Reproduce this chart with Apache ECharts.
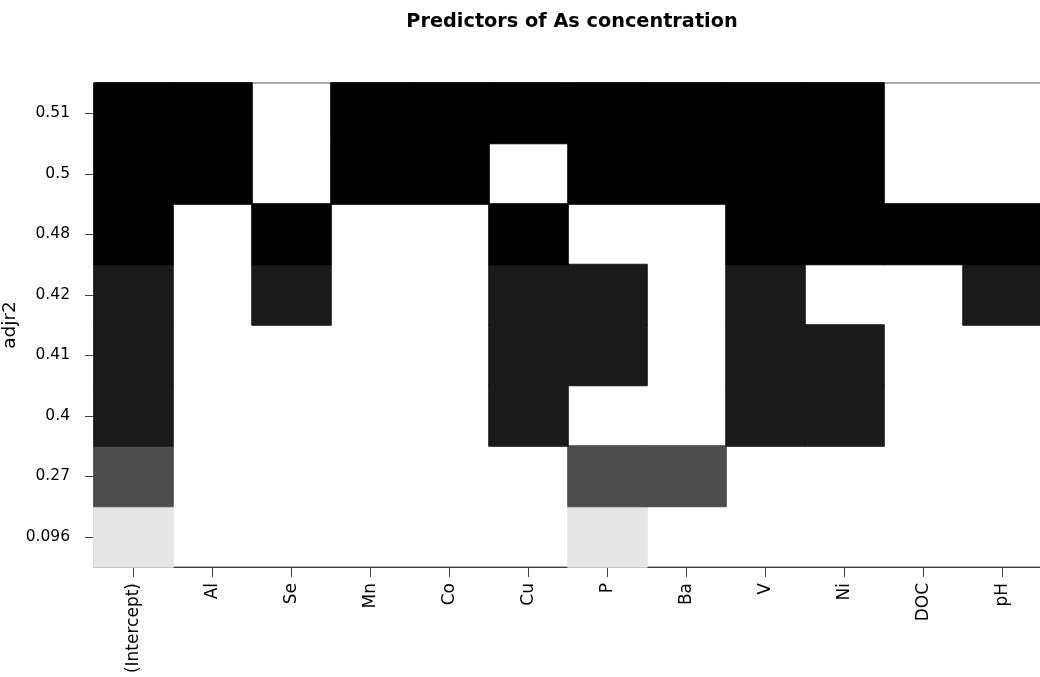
<!DOCTYPE html>
<html>
<head>
<meta charset="utf-8">
<script src="https://cdn.jsdelivr.net/npm/echarts@6/dist/echarts.min.js"></script>
<style>html,body{margin:0;padding:0;background:#fff}#c{width:1040px;height:677px}</style>
</head>
<body>
<div id="c"></div>
<script>
// Predictors (x categories)
var predictors = ['(Intercept)','Al','Se','Mn','Co','Cu','P','Ba','V','Ni','DOC','pH'];
// adjr2 labels (bottom to top)
var adjr2Labels = ['0.096','0.27','0.4','0.41','0.42','0.48','0.5','0.51'];
// shade of each row (bottom to top)
var rowShades = ['#e6e6e6','#4d4d4d','#1a1a1a','#1a1a1a','#1a1a1a','#000000','#000000','#000000'];
// inclusion matrix: one array per row (bottom to top), one flag per predictor
var inc_0096 = [1,0,0,0,0,0,1,0,0,0,0,0];
var inc_027  = [1,0,0,0,0,0,1,1,0,0,0,0];
var inc_040  = [1,0,0,0,0,1,0,0,1,1,0,0];
var inc_041  = [1,0,0,0,0,1,1,0,1,1,0,0];
var inc_042  = [1,0,1,0,0,1,1,0,1,0,0,1];
var inc_048  = [1,0,1,0,0,1,0,0,1,1,1,1];
var inc_050  = [1,1,0,1,1,0,1,1,1,1,0,0];
var inc_051  = [1,1,0,1,1,1,1,1,1,1,0,0];
var inclusion = [inc_0096, inc_027, inc_040, inc_041, inc_042, inc_048, inc_050, inc_051];
var yAxisTitle = 'adjr2';

var data = [];
inclusion.forEach(function(row, yi){
  row.forEach(function(v, xi){
    if (v) data.push({value:[xi, yi, 1], itemStyle:{color: rowShades[yi], borderColor: rowShades[yi], borderWidth: 1}});
  });
});

var chart = echarts.init(document.getElementById('c'));
var font = 'DejaVu Sans, Liberation Sans, Arial, sans-serif';
chart.setOption({
  animation: false,
  title: {
    text: 'Predictors of As concentration',
    left: 567, top: 7, textAlign: 'center',
    textStyle: {fontFamily: font, fontSize: 19.3, fontWeight: 'bold', color: '#000'}
  },
  graphic: [{
    type: 'text', x: 10, y: 325, rotation: Math.PI / 2,
    style: {text: yAxisTitle, fill: '#000', font: '18.5px ' + font, align: 'center', verticalAlign: 'middle'}
  }],
  grid: {left: 94, top: 83, width: 948, height: 484, outerBoundsMode: 'none', containLabel: false,
         show: true, borderColor: '#555', borderWidth: 1, backgroundColor: 'transparent'},
  xAxis: {
    type: 'category', data: predictors,
    axisLine: {show: true, lineStyle: {color: '#444', width: 1}},
    axisTick: {show: true, alignWithLabel: true, length: 10, lineStyle: {color: '#444'}},
    axisLabel: {rotate: 90, interval: 0, margin: 16, color: '#000', fontFamily: font, fontSize: 17},
    splitLine: {show: false}
  },
  yAxis: {
    type: 'category', data: adjr2Labels,
    axisLine: {show: true, lineStyle: {color: '#444', width: 1}},
    axisTick: {show: true, alignWithLabel: true, length: 9, lineStyle: {color: '#444'}},
    axisLabel: {interval: 0, margin: 24, color: '#000', fontFamily: font, fontSize: 15.5},
    splitLine: {show: false}
  },
  series: [{
    type: 'heatmap', data: data,
    emphasis: {disabled: true}
  }]
});
</script>
</body>
</html>
